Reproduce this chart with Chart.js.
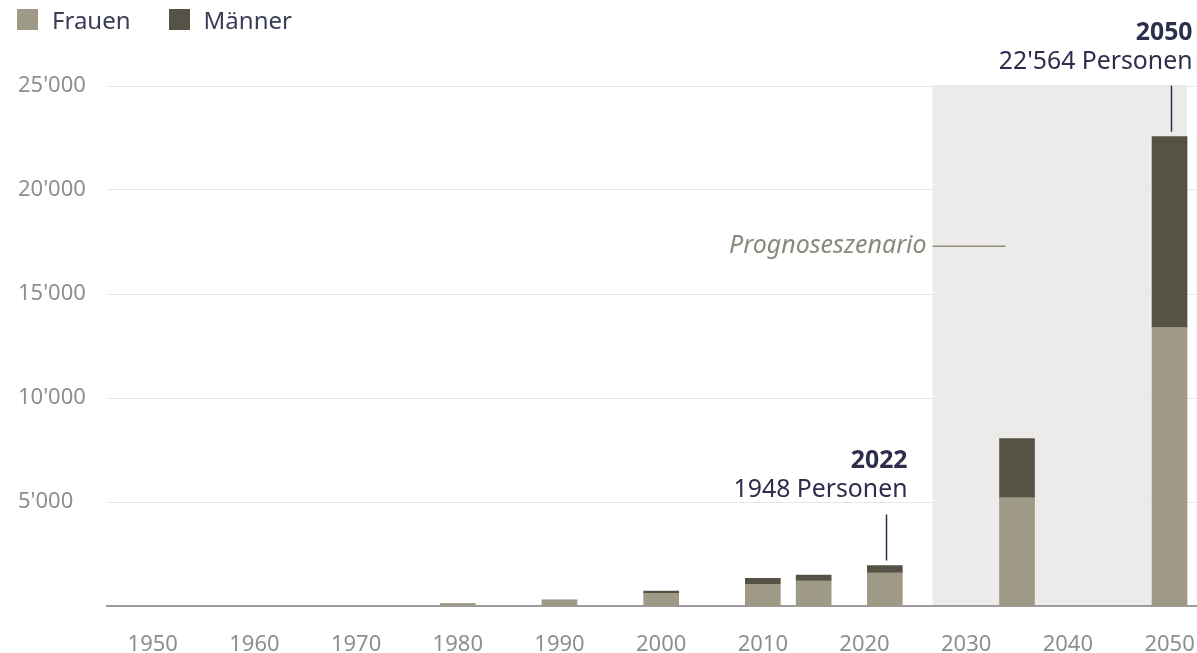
<!DOCTYPE html>
<html lang="de">
<head>
<meta charset="utf-8">
<title>Personen 1950–2050</title>
<script src="https://cdn.jsdelivr.net/npm/chart.js@4/dist/chart.umd.min.js"></script>
<style>
  body { margin: 0; background: #fff; font-family: 'Noto Sans', sans-serif; }
  .wrap { position: relative; width: 1197px; height: 653px; }
  .legend { position: absolute; left: 17px; top: 3px; display: flex; font-size: 24px; color: #3a3c58; }
  .legend-item { display: flex; align-items: center; margin-right: 38px; }
  .legend-box { display: inline-block; width: 21px; height: 21px; margin-right: 14px; }
</style>
</head>
<body>
<div class="wrap">
  <canvas id="chart"></canvas>
  <div class="legend" id="legend"></div>
</div>
<script>
// --- Daten -----------------------------------------------------------------
const YEARS   = [1980, 1990, 2000, 2010, 2015, 2022, 2035, 2050];
const FRAUEN  = [110, 280, 610, 1045, 1215, 1590, 5210, 13390];
const MAENNER = [0, 10, 110, 285, 275, 358, 2840, 9174];
const X_TICKS = [1950, 1960, 1970, 1980, 1990, 2000, 2010, 2020, 2030, 2040, 2050];
const Y_TICKS = [5000, 10000, 15000, 20000, 25000];
const PROGNOSE_RANGE = [2026.7, 2051.7];
const HIGHLIGHT_YEARS = [2022, 2050];

const COL_FRAUEN = '#9e9a86';
const COL_MAENNER = '#575246';
const COL_TEXT = '#2c2e4c';
const COL_TICK = '#8e8e8e';

// Schweizer Zahlenformat (Apostroph)
function fmt(n) {
  return String(n).replace(/\B(?=(\d{3})+(?!\d))/g, "'");
}

function total(year) {
  const i = YEARS.indexOf(year);
  return FRAUEN[i] + MAENNER[i];
}

// --- Overlay: Prognose-Fläche + Annotationen --------------------------------
const overlay = {
  id: 'overlay',
  beforeDraw(chart) {
    const { ctx, chartArea, scales: { x } } = chart;
    const x0 = x.getPixelForValue(PROGNOSE_RANGE[0]);
    const x1 = x.getPixelForValue(PROGNOSE_RANGE[1]);
    ctx.save();
    ctx.fillStyle = '#ecebe9';
    ctx.fillRect(x0, chartArea.top - 1, x1 - x0, chartArea.bottom - chartArea.top + 1);
    ctx.restore();
  },
  afterDatasetsDraw(chart) {
    const { ctx, scales: { x, y } } = chart;
    ctx.save();

    // Prognoseszenario
    const px = x.getPixelForValue(PROGNOSE_RANGE[0]);
    const py = y.getPixelForValue(17300);
    ctx.font = 'italic 25px "Noto Sans"';
    ctx.fillStyle = '#8b897b';
    ctx.textAlign = 'right';
    ctx.textBaseline = 'middle';
    ctx.fillText('Prognoseszenario', px - 6, py);
    ctx.strokeStyle = '#8f8c7a';
    ctx.lineWidth = 1.5;
    ctx.beginPath();
    ctx.moveTo(px, py);
    ctx.lineTo(px + 73, py);
    ctx.stroke();

    // Jahres-Annotationen
    HIGHLIGHT_YEARS.forEach(yr => {
      const n = total(yr);
      const cx = Math.round(x.getPixelForValue(yr)) + 1.5;
      const top = y.getPixelForValue(n);
      const lineBottom = top - 5;
      const lineTop = lineBottom - 46;
      ctx.strokeStyle = COL_TEXT;
      ctx.lineWidth = 1.5;
      ctx.beginPath();
      ctx.moveTo(cx, lineTop);
      ctx.lineTo(cx, lineBottom);
      ctx.stroke();

      ctx.fillStyle = COL_TEXT;
      ctx.textAlign = 'right';
      ctx.textBaseline = 'alphabetic';
      const label = n >= 10000 ? fmt(n) : String(n);
      ctx.font = '24.8px "Noto Sans"';
      ctx.fillText(label + ' Personen', cx + 21, lineTop - 17);
      ctx.font = 'bold 24.8px "Noto Sans"';
      ctx.fillText(String(yr), cx + 21, lineTop - 46);
    });
    ctx.restore();
  }
};

const chart = new Chart(document.getElementById('chart'), {
  type: 'bar',
  data: {
    datasets: [
      {
        label: 'Frauen',
        data: YEARS.map((yr, i) => ({ x: yr, y: FRAUEN[i] })),
        backgroundColor: COL_FRAUEN,
        barThickness: 35
      },
      {
        label: 'Männer',
        data: YEARS.map((yr, i) => ({ x: yr, y: MAENNER[i] })),
        backgroundColor: COL_MAENNER,
        barThickness: 35
      }
    ]
  },
  options: {
    responsive: true,
    maintainAspectRatio: false,
    animation: false,
    layout: { padding: { top: 86, left: 18, right: 0, bottom: 0 } },
    plugins: {
      legend: { display: false },
      tooltip: { enabled: false }
    },
    scales: {
      x: {
        type: 'linear',
        stacked: true,
        offset: false,
        min: 1945.5,
        max: 2052.7,
        afterBuildTicks: s => { s.ticks = X_TICKS.map(v => ({ value: v })); },
        afterFit: s => { s.height = 47; s.paddingLeft = 0; s.paddingRight = 0; },
        grid: { display: false, drawTicks: false, offset: false },
        border: { display: true, color: '#9c9c9c', width: 2 },
        ticks: {
          color: COL_TICK,
          font: { family: 'Noto Sans', size: 22 },
          padding: 26,
          maxRotation: 0,
          autoSkip: false,
          callback: v => String(v)
        }
      },
      y: {
        stacked: true,
        min: 0,
        max: 25000,
        afterBuildTicks: s => { s.ticks = Y_TICKS.map(v => ({ value: v })); },
        afterFit: s => { s.width = 89; },
        grid: { color: '#e6e6e6', lineWidth: 1, drawTicks: false },
        border: { display: false },
        ticks: {
          color: COL_TICK,
          font: { family: 'Noto Sans', size: 22 },
          crossAlign: 'far',
          padding: 0,
          callback: v => fmt(v)
        }
      }
    }
  },
  plugins: [overlay]
});

// HTML-Legende aus den Datensätzen
document.getElementById('legend').innerHTML = chart.data.datasets.map(ds => `
  <div class="legend-item">
    <span class="legend-box" style="background:${ds.backgroundColor}"></span>
    <span>${ds.label}</span>
  </div>`).join('');
</script>
</body>
</html>
